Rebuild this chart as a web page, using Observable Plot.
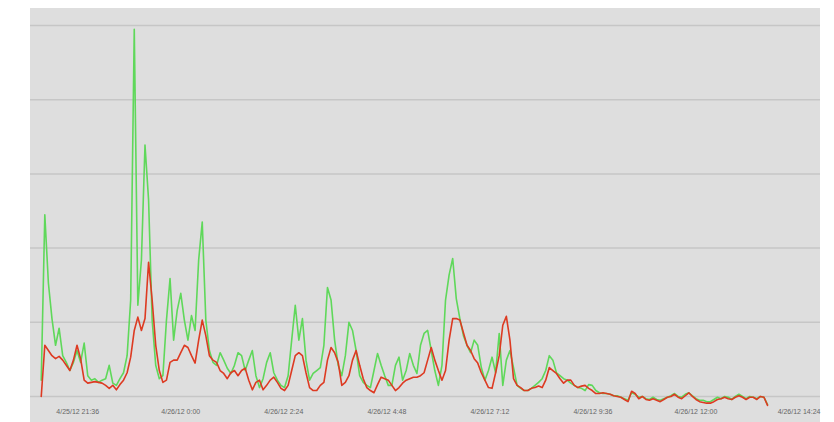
<!DOCTYPE html>
<html>
<head>
<meta charset="utf-8">
<script src="https://cdn.jsdelivr.net/npm/d3@7"></script>
<script src="https://cdn.jsdelivr.net/npm/@observablehq/plot@0.6"></script>
<style>
  html, body { margin: 0; padding: 0; background: #fff; }
  #chart svg {
    display: block;
    background:
      linear-gradient(#fff, #fff) top left / 100% 8px no-repeat,
      linear-gradient(to right, #fff 30px, #dedede 30px, #dedede 820px, #fff 820px);
  }
</style>
</head>
<body>
<div id="chart"></div>
<script>
// Samples every 5 minutes, starting 4/25/12 20:45
const startTime = "2012-04-25T20:45:00Z";
const stepMinutes = 5;

const greenValues = [
  2.2, 24.5, 15.3, 10.5, 6.9, 9.2, 5.5, 4.6, 3.5, 4.6,
  6.2, 4.6, 7.2, 2.8, 2.2, 2.4, 1.9, 2.2, 2.4, 4.2,
  1.8, 1.5, 2.4, 3.2, 5.5, 13, 49.5, 12.3, 18.4, 33.9,
  26.5, 10.3, 4.2, 2.4, 2.8, 10.3, 15.9, 7.6, 11.6, 13.9,
  10.3, 7.6, 10.9, 8.9, 18.4, 23.5, 10.3, 6.2, 4.6, 4.2,
  5.9, 4.9, 3.8, 3.1, 4.2, 5.9, 5.5, 3.5, 4.9, 6.2,
  2.8, 1.2, 2.4, 4.6, 5.9, 3.2, 2.2, 1.5, 1.2, 2.8,
  7.6, 12.3, 7.6, 10.5, 4.9, 2.2, 3.1, 3.5, 3.9, 6.9,
  14.7, 13, 7.6, 4.2, 2.8, 5.5, 10, 8.9, 6.2, 2.8,
  1.9, 1.5, 1.2, 3.5, 5.8, 4.2, 2.8, 1.5, 1.5, 4.2,
  5.3, 2.2, 3.5, 5.8, 4.2, 3.1, 6.9, 8.5, 8.9, 6.2,
  3.5, 1.5, 4.2, 13, 16.4, 18.6, 13.2, 10.5, 8.2, 6.9,
  5.9, 7.6, 6.9, 3.9, 2.2, 3.5, 5.3, 3.2, 8.5, 1.5,
  4.9, 6.2, 3.9, 1.5, 1.1, 0.8, 0.8, 1.1, 1.5, 1.9,
  2.4, 3.5, 5.5, 4.9, 3.2, 2.8, 2.4, 2.2, 1.8, 1.5,
  1.2, 1.1, 0.8, 1.6, 1.5, 0.8, 0.5, 0.4, 0.4, 0.3,
  0.1, 0.1, -0.1, -0.3, -0.5, 0.5, 0.3, -0.1, 0, -0.3,
  -0.4, -0.1, -0.4, -0.5, -0.3, -0.1, 0.1, 0.4, 0, -0.1,
  0.3, 0.5, 0.1, -0.3, -0.5, -0.5, -0.7, -0.7, -0.4, -0.1,
  -0.3, 0, -0.1, -0.4, 0, 0.3, 0, -0.3, 0, -0.1,
  -0.3, 0, -0.1, -1.1
];

const redValues = [
  0, 6.9, 6.2, 5.5, 5.1, 5.4, 4.9, 4.2, 3.5, 4.9,
  6.9, 5.1, 2.2, 1.8, 1.9, 2.0, 1.9, 1.8, 1.5, 1.1,
  1.5, 0.9, 1.6, 2.2, 3.2, 5.3, 8.9, 10.7, 8.9, 10.5,
  18.1, 13, 6.9, 3.5, 1.9, 2.2, 4.6, 4.9, 4.9, 5.9,
  6.9, 6.6, 5.5, 4.5, 7.6, 10.3, 8.2, 5.5, 4.9, 4.6,
  3.5, 3.1, 2.4, 3.2, 3.5, 2.8, 3.5, 3.8, 2.2, 0.9,
  1.9, 2.2, 0.9, 1.5, 2.2, 2.6, 1.9, 1.1, 0.8, 1.5,
  3.5, 5.5, 5.9, 5.5, 3.2, 1.2, 0.8, 0.8, 1.5, 1.9,
  4.9, 6.6, 5.9, 4.6, 1.5, 1.9, 2.8, 4.9, 6.2, 4.2,
  2.4, 1.2, 0.8, 0.5, 1.6, 2.6, 2.4, 2.2, 1.5, 0.8,
  1.2, 1.8, 2.2, 2.4, 2.6, 2.6, 2.8, 3.2, 4.9, 6.6,
  4.9, 3.5, 2.2, 3.5, 7.6, 10.5, 10.5, 10.3, 8.6, 6.9,
  6.2, 5.1, 4.5, 3.2, 2.2, 1.2, 1.1, 3.2, 5.5, 9.6,
  10.8, 7.6, 2.4, 1.5, 1.2, 0.8, 0.8, 1.1, 1.2, 1.4,
  1.2, 2.2, 3.9, 3.5, 3.1, 2.4, 1.8, 2.2, 2.2, 1.5,
  1.2, 1.4, 1.5, 1.1, 0.8, 0.4, 0.4, 0.5, 0.4, 0.3,
  0.1, 0, -0.1, -0.4, -0.7, 0.7, 0.4, -0.3, 0, -0.4,
  -0.5, -0.3, -0.5, -0.7, -0.4, -0.1, 0, 0.3, -0.1, -0.3,
  0.1, 0.5, 0, -0.4, -0.7, -0.8, -0.9, -0.9, -0.7, -0.4,
  -0.3, -0.1, -0.3, -0.4, -0.1, 0.1, -0.1, -0.4, -0.1, -0.1,
  -0.4, 0, -0.1, -1.2
];

const tickTimes = [
  "2012-04-25T21:36:00Z", "2012-04-26T00:00:00Z", "2012-04-26T02:24:00Z",
  "2012-04-26T04:48:00Z", "2012-04-26T07:12:00Z", "2012-04-26T09:36:00Z",
  "2012-04-26T12:00:00Z", "2012-04-26T14:24:00Z"
];
const tickLabels = [
  "4/25/12 21:36", "4/26/12 0:00", "4/26/12 2:24", "4/26/12 4:48",
  "4/26/12 7:12", "4/26/12 9:36", "4/26/12 12:00", "4/26/12 14:24"
];
const gridValues = [0, 10, 20, 30, 40, 50];
const xDomain = ["2012-04-25T20:30:00Z", "2012-04-26T14:54:00Z"];
const yDomain = [-1.35, 52.3];

const t0 = new Date(startTime).getTime();
const toRows = (vals, series) => vals.map((v, i) => ({
  time: new Date(t0 + i * stepMinutes * 60000), value: v, series
}));
const greenRows = toRows(greenValues, "green");
const redRows = toRows(redValues, "red");
const ticks = tickTimes.map(d => new Date(d));
const labelOf = new Map(ticks.map((d, i) => [d.getTime(), tickLabels[i]]));

const chart = Plot.plot({
  width: 834,
  height: 422,
  marginLeft: 30,
  marginRight: 14,
  marginTop: 8,
  marginBottom: 16,
  style: { fontFamily: "Liberation Sans, Arial, sans-serif", fontSize: "7px", color: "#666" },
  x: { type: "utc", domain: xDomain.map(d => new Date(d)), axis: null },
  y: { domain: yDomain, axis: null },
  marks: [
    Plot.ruleY(gridValues, { stroke: "#c6c6c6", strokeWidth: 1.5 }),
    Plot.axisX(ticks, {
      tickSize: 0, tickPadding: 3, fill: "#666",
      tickFormat: d => labelOf.get(d.getTime())
    }),
    Plot.line(greenRows, { x: "time", y: "value", stroke: "#5fd85a", strokeWidth: 1.6 }),
    Plot.line(redRows, { x: "time", y: "value", stroke: "#dd3a22", strokeWidth: 1.6 })
  ]
});
document.getElementById("chart").append(chart);
</script>
</body>
</html>
